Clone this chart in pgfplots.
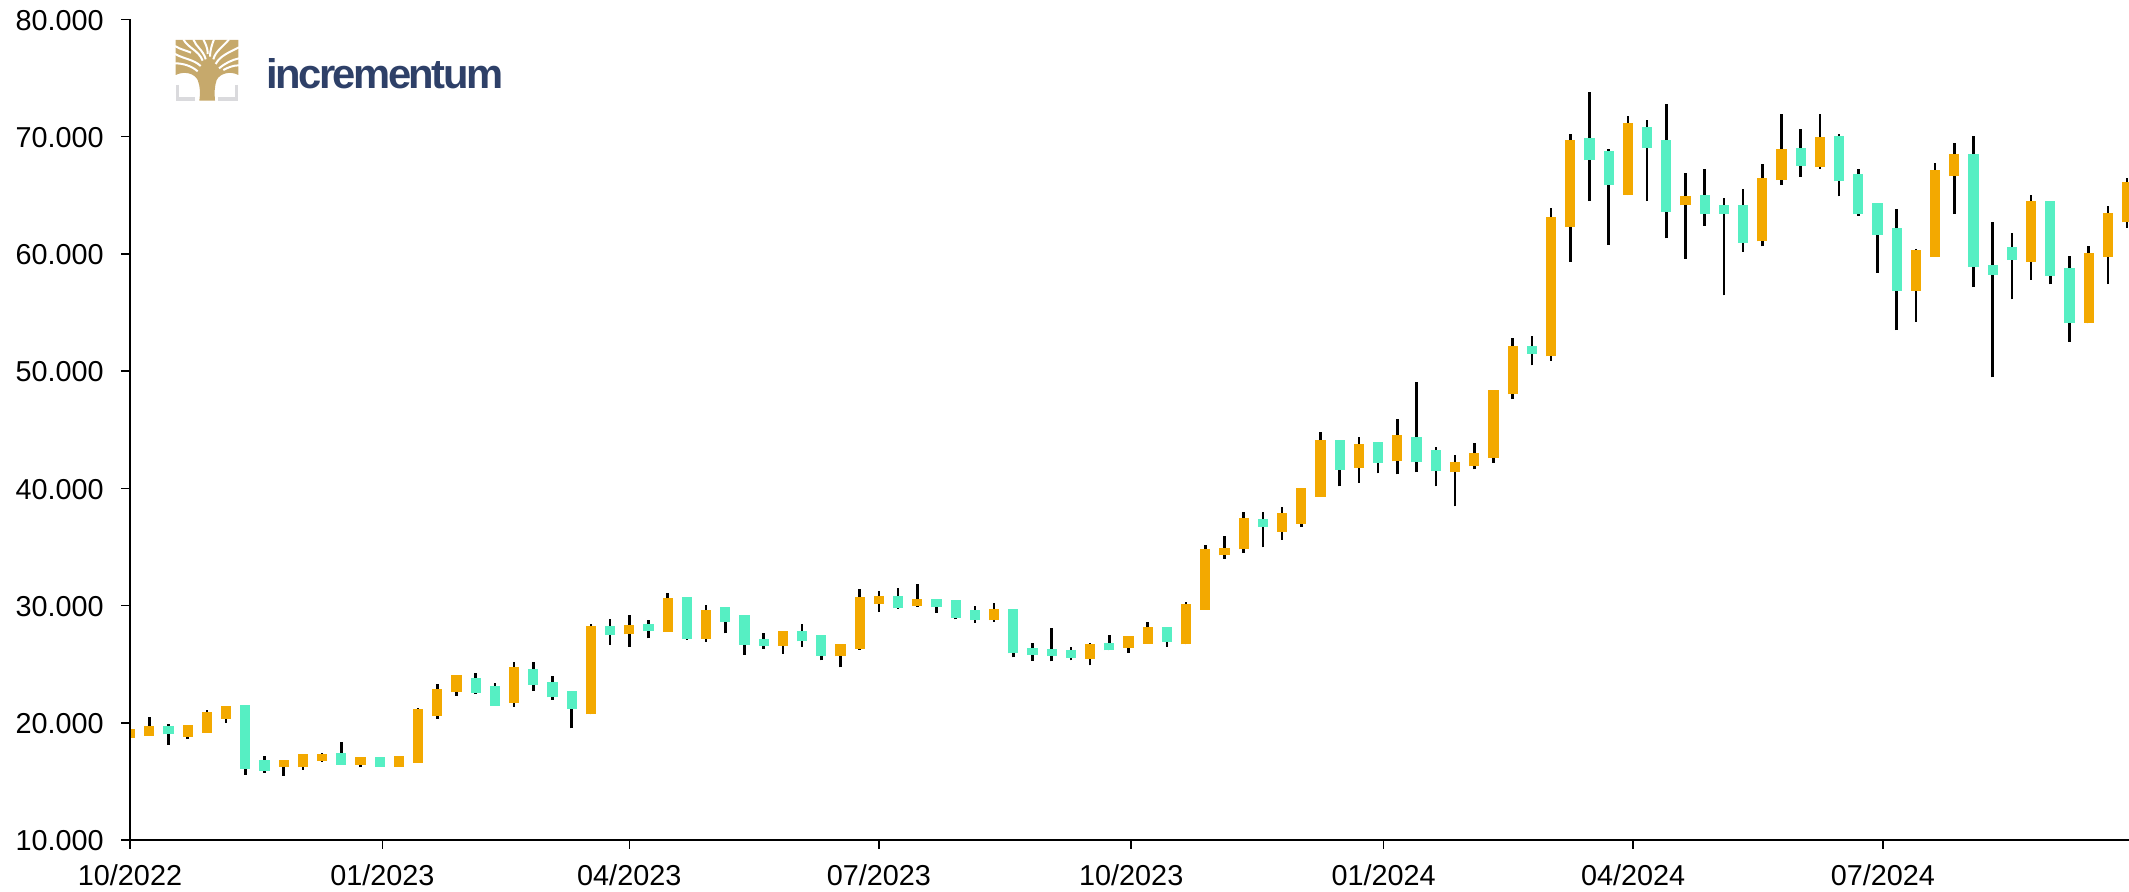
\documentclass[border=0pt]{standalone}
\usepackage{fontspec}
\setmainfont{Liberation Sans}
\usepackage{pgfplots}
\usepackage{pgfplotstable}
\usepackage{graphicx}
\pgfplotsset{compat=1.18}
\definecolor{upcol}{HTML}{F3A900}
\definecolor{downcol}{HTML}{56EFC3}
\definecolor{gold}{HTML}{C6A96C}
\definecolor{navy}{HTML}{2E4068}
\definecolor{bracket}{HTML}{DADADD}
\pgfplotstableread{
x lo bl bh hi
0 18472 18728 19467 20292
1 18870 18870 19723 20462
3 18614 18813 19780 19780
4 19154 19154 20917 21059
5 20007 20349 21429 21429
8 15459 16226 16823 16823
9 15970 16198 17363 17363
10 16653 16738 17363 17420
12 16198 16397 17079 17079
14 16255 16255 17193 17193
15 16596 16596 21145 21230
16 20349 20605 22850 23334
17 22282 22623 24044 24044
20 21372 21685 24755 25210
24 20718 20718 28224 28423
26 26489 27542 28338 29162
28 27741 27741 30640 31038
30 26916 27143 29617 30015
34 25864 26546 27826 27826
37 24727 25665 26717 26717
38 26234 26291 30697 31379
39 29446 30157 30839 31237
41 29901 29958 30555 31806
45 28622 28736 29674 30185
50 24897 25438 26689 26831
52 25978 26376 27371 27371
53 26746 26746 28167 28565
55 26689 26689 30100 30328
56 29645 29645 34848 35132
57 33995 34279 34933 35928
58 34478 34791 37435 37947
60 35615 36298 37861 38403
61 36696 36980 39994 39994
62 39255 39255 44087 44769
64 40477 41756 43775 44371
66 41188 42296 44514 45879
69 38458 41358 42239 42808
70 41614 41870 43007 43832
71 42183 42581 48352 48352
72 47613 48011 52133 52844
74 50882 51252 63135 63931
75 59325 62311 69703 70186
78 65012 65012 71125 71750
81 59581 64131 64927 66888
85 60634 61061 66434 67685
86 65865 66292 68964 71949
88 67258 67401 69959 71921
93 54209 56853 60321 60378
94 59753 59753 67144 67713
95 63392 66604 68509 69419
99 57791 59298 64500 64984
102 54066 54123 60065 60662
103 57421 59724 63478 64102
104 62226 62681 66121 66434
}\upweeks
\pgfplotstableread{
x lo bl bh hi
2 18131 19012 19723 19922
6 15544 16056 21514 21514
7 15743 15913 16795 17164
11 16397 16397 17420 18358
13 16255 16255 17079 17079
18 22452 22566 23845 24215
19 21429 21429 23135 23419
21 22737 23248 24613 25210
22 21969 22168 23476 23959
23 19524 21173 22680 22680
25 26660 27485 28224 28878
27 27200 27826 28423 28736
29 27086 27172 30726 30726
31 27627 28622 29873 29873
32 25779 26632 29162 29162
33 26319 26546 27172 27627
35 26489 26944 27826 28423
36 25324 25694 27456 27456
40 29731 29759 30782 31464
42 29389 29844 30555 30555
43 28821 28935 30498 30498
44 28537 28764 29617 29986
46 25580 25921 29674 29674
47 25295 25779 26376 26774
48 25239 25722 26319 28110
49 25324 25523 26177 26433
51 26177 26177 26774 27456
54 26490 26888 28167 28167
59 34962 36724 37350 37947
63 40164 41585 44087 44087
65 41273 42183 43917 43917
67 41387 42211 44343 49034
68 40164 41443 43235 43519
73 50484 51479 52105 52986
76 64501 67969 69845 73798
77 60776 65836 68764 68907
79 64501 69021 70783 71381
80 61316 63590 69674 72745
82 62396 63391 65012 67258
83 56455 63419 64160 64729
84 60179 60947 64188 65523
87 66576 67514 69021 70641
89 64898 66178 70016 70186
90 63249 63392 66803 67258
91 58388 61600 64358 64358
92 53498 56853 62197 63818
96 57165 58871 68509 70016
97 49461 58217 59013 62681
98 56113 59497 60577 61799
100 57393 58132 64472 64472
101 52503 54095 58786 59809
}\downweeks
\pgfplotsset{
  wick/.style={draw=none, mark=none, forget plot,
    error bars/.cd, y dir=plus, y explicit, error mark=none,
    error bar style={draw=black, solid, line width=1.3pt}},
  body/.style={draw=none, mark=none, forget plot,
    error bars/.cd, y dir=plus, y explicit, error mark=none,
    error bar style={draw=#1, solid, line width=5.1pt}},
}
\begin{document}
\begin{tikzpicture}
\path[use as bounding box] (0,0) rectangle (1064.5pt,446pt);
\begin{axis}[
  at={(65pt,26pt)}, anchor=south west,
  scale only axis, width=999.5pt, height=410.35pt,
  xmin=0, xmax=104.1, ymin=10000, ymax=80000,
  axis lines=left, axis line style={-, black, line width=0.75pt},
  axis on top,
  tick align=outside, major tick length=4.5pt,
  tick style={black, line width=0.75pt},
  xtick={0,13.14,26,39,52.14,65.28,78.28,91.28},
  xticklabels={10/2022,01/2023,04/2023,07/2023,10/2023,01/2024,04/2024,07/2024},
  ytick={10000,20000,30000,40000,50000,60000,70000,80000},
  yticklabels={10.000,20.000,30.000,40.000,50.000,60.000,70.000,80.000},
  scaled y ticks=false,
  tick label style={font=\fontsize{14.4}{16}\selectfont},
  yticklabel style={inner sep=0pt, xshift=-8.5pt, yshift=-0.5pt},
  xticklabel style={inner sep=0pt, yshift=-7.5pt},
]
\addplot[wick] table[x=x, y=lo, y error expr=\thisrow{hi}-\thisrow{lo}] {\upweeks};
\addplot[wick] table[x=x, y=lo, y error expr=\thisrow{hi}-\thisrow{lo}] {\downweeks};
\addplot[body=upcol] table[x=x, y=bl, y error expr=\thisrow{bh}-\thisrow{bl}] {\upweeks};
\addplot[body=downcol] table[x=x, y=bl, y error expr=\thisrow{bh}-\thisrow{bl}] {\downweeks};
\end{axis}
% logo, in coordinates of a 3x crop at (165,30) of the image
\begin{scope}[x=0.1667pt, y=-0.1667pt, shift={(82.5pt,431pt)}]
  \fill[gold] (32,30) -- (220,30) -- (220,135)
      .. controls (195,122) and (165,130) .. (155,150)
      .. controls (148,170) and (148,190) .. (150,212)
      -- (103,212)
      .. controls (106,190) and (106,170) .. (98,150)
      .. controls (88,130) and (58,122) .. (32,135) -- cycle;
  \begin{scope}[draw=white, line width=1pt]
    \draw (30,100) .. controls (55,100) and (80,108) .. (98,124);
    \draw (30,72) .. controls (60,88) and (85,88) .. (107,108);
    \draw (55,28) .. controls (70,55) and (100,60) .. (113,92);
    \draw (30,48) .. controls (45,58) and (65,62) .. (78,68);
    \draw (85,28) .. controls (92,50) and (115,60) .. (122,88);
    \draw (115,28) .. controls (120,40) and (128,50) .. (128,72);
    \draw (147,28) .. controls (142,42) and (136,55) .. (135,80);
    \draw (192,28) .. controls (175,50) and (152,62) .. (145,88);
    \draw (222,52) .. controls (190,68) and (165,78) .. (152,102);
    \draw (222,85) .. controls (200,90) and (180,100) .. (162,115);
    \draw (222,106) .. controls (205,106) and (190,112) .. (175,120);
  \end{scope}
  \draw[bracket, line width=1.6pt] (37,165) -- (37,207) -- (90,207);
  \draw[bracket, line width=1.6pt] (215,165) -- (215,207) -- (158,207);
\end{scope}
\node[anchor=base west, inner sep=0pt, text=navy] at (133pt,401.5pt)
  {\resizebox{118.5pt}{15pt}{\fontsize{21}{24}\selectfont\bfseries\addfontfeature{LetterSpace=-6}incrementum}};
\end{tikzpicture}
\end{document}
